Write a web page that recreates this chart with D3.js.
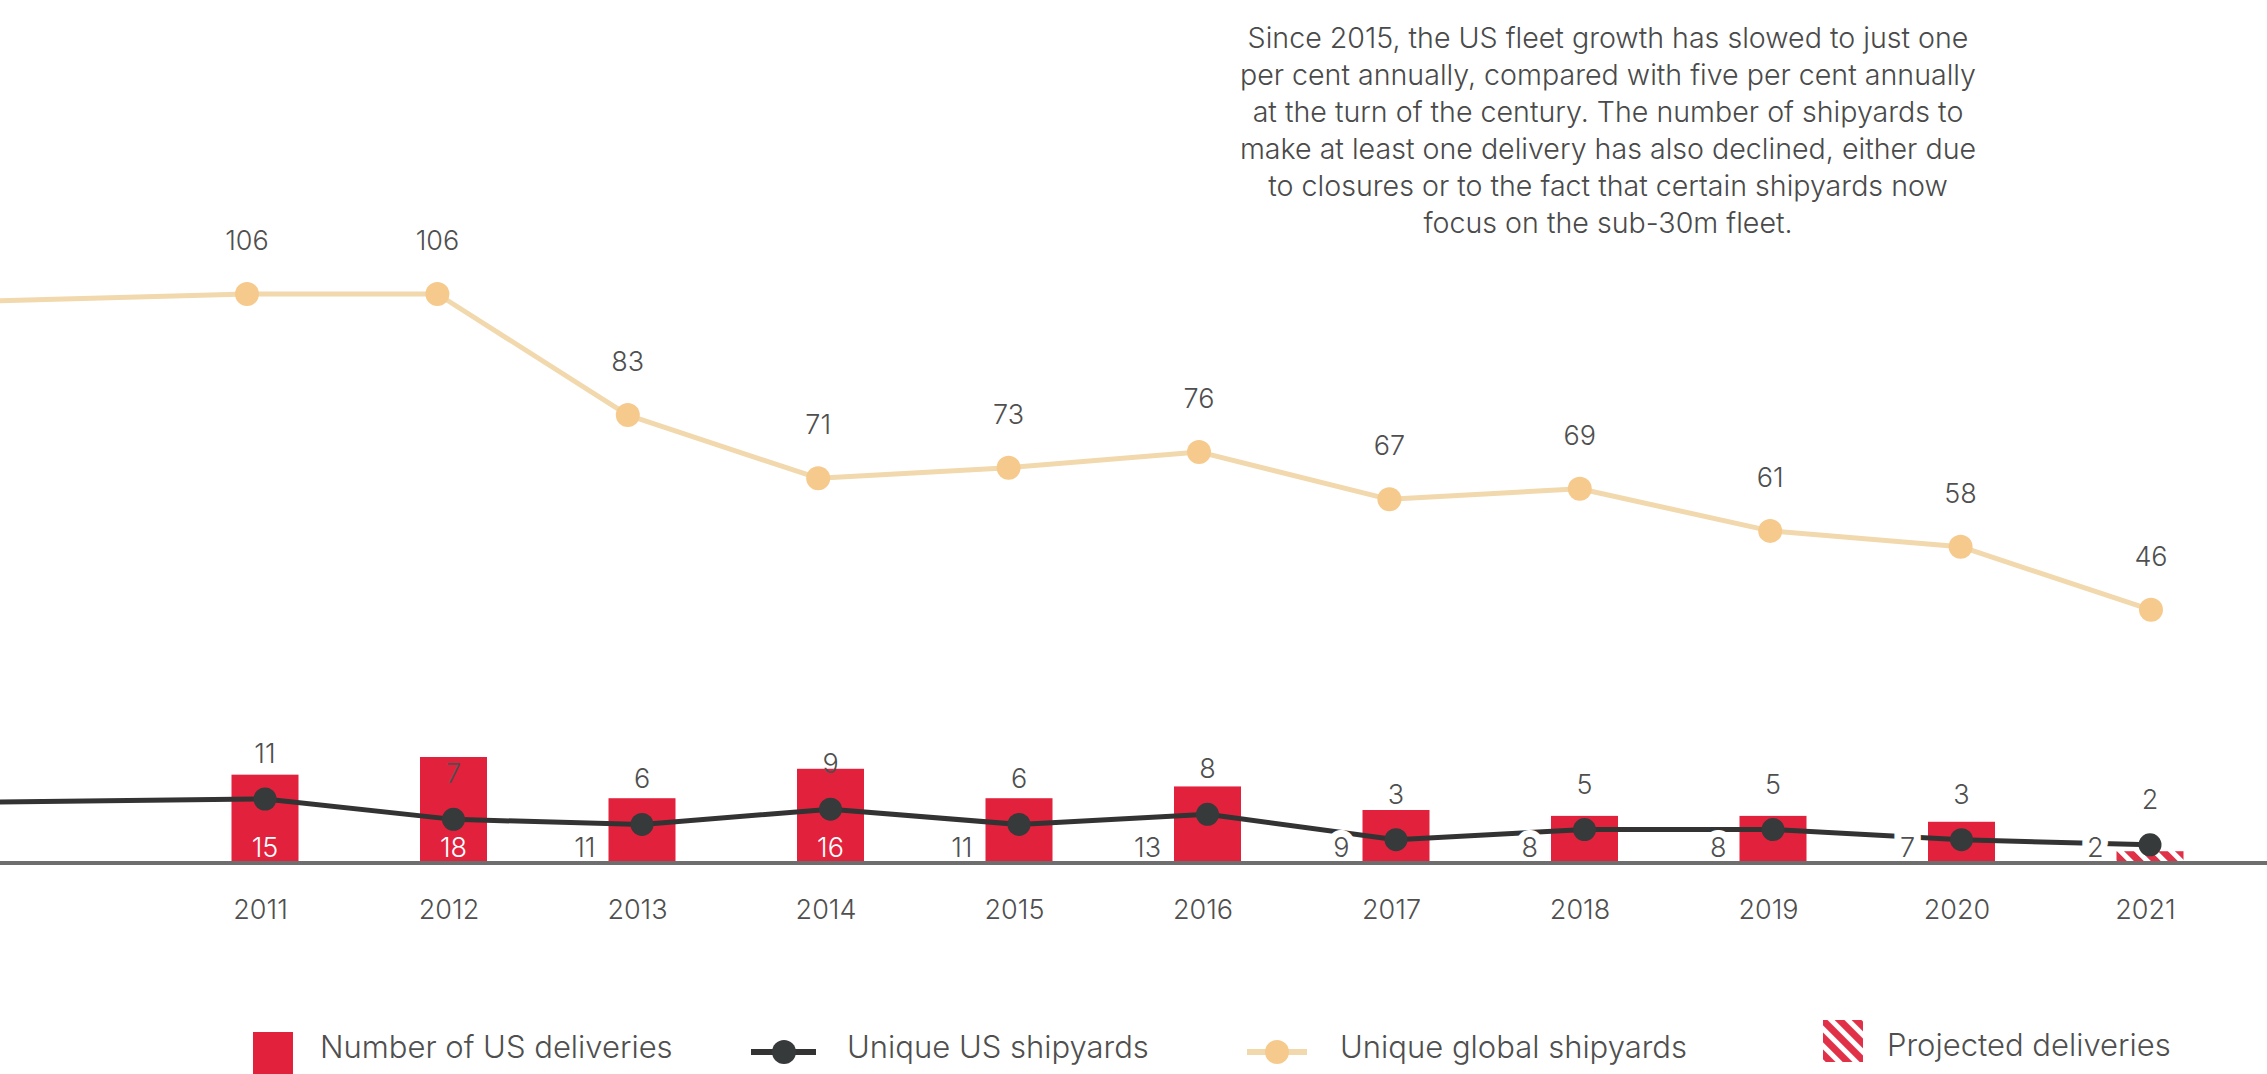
<!DOCTYPE html>
<html>
<head>
<meta charset="utf-8">
<script src="https://cdn.jsdelivr.net/npm/d3@7"></script>
<style>
  html, body { margin: 0; padding: 0; background: #fff; overflow: hidden; }
  svg { display: block; }
  text { font-family: Inter, "Noto Sans", sans-serif; font-weight: 300; }
</style>
</head>
<body>
<svg id="chart"></svg>
<script>
// ---- data ----
const years = [2011, 2012, 2013, 2014, 2015, 2016, 2017, 2018, 2019, 2020, 2021];
const usDeliveries = [15, 18, 11, 16, 11, 13, 9, 8, 8, 7, 2];
const usShipyards = [11, 7, 6, 9, 6, 8, 3, 5, 5, 3, 2];
const globalShipyards = [106, 106, 83, 71, 73, 76, 67, 69, 61, 58, 46];
const projectedYears = [2021];
// where the lines coming from earlier years cross the left edge
const globalAtLeftEdge = 104.7;
const usAtLeftEdge = 10.4;

const noteLines = [
  "Since 2015, the US fleet growth has slowed to just one",
  "per cent annually, compared with five per cent annually",
  "at the turn of the century. The number of shipyards to",
  "make at least one delivery has also declined, either due",
  "to closures or to the fact that certain shipyards now",
  "focus on the sub-30m fleet."
];
const legendLabels = ["Number of US deliveries", "Unique US shipyards", "Unique global shipyards", "Projected deliveries"];

// ---- setup ----
const W = 2267, H = 1074;
const RED = "#e2223d", DARK = "#363a3a", GOLD_DOT = "#f6ca8d", GOLD_LINE = "#f2d8ad", TXT = "#4f4f4f";

const svg = d3.select("#chart").attr("width", W).attr("height", H);
const defs = svg.append("defs");
const hatch = defs.append("pattern")
  .attr("id", "hatch").attr("patternUnits", "userSpaceOnUse")
  .attr("width", 12).attr("height", 12)
  .attr("patternTransform", "rotate(-45)");
hatch.append("rect").attr("width", 12).attr("height", 12).attr("fill", "#fff");
hatch.append("rect").attr("width", 7).attr("height", 12).attr("fill", "#e03149");

const rows = years.map((y, i) => ({
  year: y, deliveries: usDeliveries[i], shipyards: usShipyards[i], global: globalShipyards[i],
  projected: projectedYears.includes(y)
}));

const plotLeft = 0, plotRight = W;
const xBar = d3.scalePoint().domain(years).range([265, 2150]);
const xGlobal = d3.scalePoint().domain(years).range([247, 2151]);
const barW = 67;
const yBar = d3.scaleLinear().domain([0, 18]).range([863, 757]);
const yUS = d3.scaleLinear().domain([0, 11]).range([855, 799]);
const yGlobal = d3.scaleLinear().domain([0, 106]).range([852, 294]);

// ---- bars ----
svg.append("g").selectAll("rect").data(rows).join("rect")
  .attr("x", d => xBar(d.year) - barW / 2)
  .attr("y", d => yBar(d.deliveries))
  .attr("width", barW)
  .attr("height", d => yBar(0) - yBar(d.deliveries))
  .attr("fill", d => d.projected ? "url(#hatch)" : RED);

// ---- global shipyards line ----
const gPts = [[plotLeft, yGlobal(globalAtLeftEdge)]].concat(rows.map(d => [xGlobal(d.year), yGlobal(d.global)]));
svg.append("path").attr("d", d3.line()(gPts))
  .attr("fill", "none").attr("stroke", GOLD_LINE).attr("stroke-width", 5).attr("stroke-linejoin", "round");
svg.append("g").selectAll("circle").data(rows).join("circle")
  .attr("cx", d => xGlobal(d.year)).attr("cy", d => yGlobal(d.global)).attr("r", 12)
  .attr("fill", GOLD_DOT);
svg.append("g").selectAll("text").data(rows).join("text")
  .attr("x", d => xGlobal(d.year)).attr("y", d => yGlobal(d.global) - 44)
  .attr("text-anchor", "middle").style("font-size", "27px").style("fill", TXT)
  .text(d => d.global);

// ---- US shipyards line ----
const uPts = [[plotLeft, yUS(usAtLeftEdge)]].concat(rows.map(d => [xBar(d.year), yUS(d.shipyards)]));
svg.append("path").attr("d", d3.line()(uPts))
  .attr("fill", "none").attr("stroke", "#333").attr("stroke-width", 5).attr("stroke-linejoin", "round");
svg.append("g").selectAll("circle").data(rows).join("circle")
  .attr("cx", d => xBar(d.year)).attr("cy", d => yUS(d.shipyards)).attr("r", 11.5)
  .attr("fill", DARK);
svg.append("g").selectAll("text").data(rows).join("text")
  .attr("x", d => xBar(d.year)).attr("y", d => yUS(d.shipyards) - 36)
  .attr("text-anchor", "middle").style("font-size", "27px").style("fill", TXT)
  .text(d => d.shipyards);

// ---- delivery labels: inside tall bars, otherwise to the left with a white halo ----
const inside = d => yBar(0) - yBar(d.deliveries) > 85;
svg.append("g").selectAll("text").data(rows).join("text")
  .attr("x", d => inside(d) ? xBar(d.year) : xBar(d.year) - barW / 2 - 13)
  .attr("y", yBar(0) - 6)
  .attr("text-anchor", d => inside(d) ? "middle" : "end")
  .style("font-size", "27px")
  .style("fill", d => inside(d) ? "#fff" : TXT)
  .style("stroke", d => inside(d) ? "none" : "#fff")
  .style("stroke-width", 14).style("paint-order", "stroke")
  .text(d => d.deliveries);

// ---- baseline + year axis ----
svg.append("line")
  .attr("x1", plotLeft).attr("x2", plotRight)
  .attr("y1", yBar(0)).attr("y2", yBar(0))
  .attr("stroke", "#6e6e6e").attr("stroke-width", 4);

const axis = svg.append("g").attr("transform", `translate(0,${yBar(0)})`)
  .call(d3.axisBottom(xBar).tickSize(0).tickPadding(37).tickFormat(d3.format("d")));
axis.select(".domain").remove();
axis.selectAll("text")
  .attr("dx", -5)
  .style("font-family", "Inter, sans-serif").style("font-weight", 300)
  .style("font-size", "27px").style("fill", TXT);

// ---- note ----
svg.append("g").selectAll("text").data(noteLines).join("text")
  .attr("x", 1608).attr("y", (d, i) => 48 + i * 37)
  .attr("text-anchor", "middle").style("font-size", "28.6px").style("fill", "#4a4a4a")
  .text(d => d);

// ---- legend ----
const lg = svg.append("g");
const legendText = (x, y, s) => lg.append("text").attr("x", x).attr("y", y)
  .style("font-size", "31px").style("fill", TXT).text(s);

lg.append("rect").attr("x", 253).attr("y", 1032).attr("width", 40).attr("height", 46).attr("fill", RED);
legendText(320, 1058, legendLabels[0]);

lg.append("line").attr("x1", 751).attr("x2", 816).attr("y1", 1052).attr("y2", 1052)
  .attr("stroke", "#333").attr("stroke-width", 6);
lg.append("circle").attr("cx", 784).attr("cy", 1052).attr("r", 12).attr("fill", DARK);
legendText(847, 1058, legendLabels[1]);

lg.append("line").attr("x1", 1247).attr("x2", 1307).attr("y1", 1052).attr("y2", 1052)
  .attr("stroke", GOLD_LINE).attr("stroke-width", 6);
lg.append("circle").attr("cx", 1277).attr("cy", 1052).attr("r", 12).attr("fill", GOLD_DOT);
legendText(1340, 1058, legendLabels[2]);

lg.append("rect").attr("x", 1823).attr("y", 1020).attr("width", 40).attr("height", 42).attr("fill", "url(#hatch)");
legendText(1887, 1056, legendLabels[3]);
</script>
</body>
</html>
